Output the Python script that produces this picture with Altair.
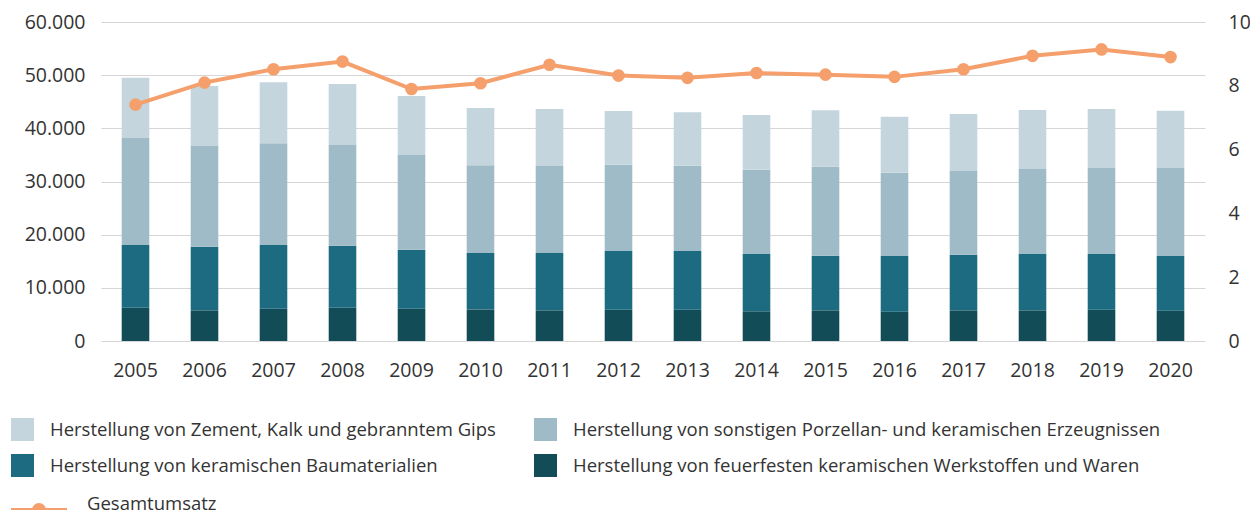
import altair as alt
import pandas as pd

# ---- data ----
years = ["2005", "2006", "2007", "2008", "2009", "2010", "2011", "2012",
         "2013", "2014", "2015", "2016", "2017", "2018", "2019", "2020"]

feuerfest = [6260, 5770, 6080, 6260, 6080, 5950, 5770, 5890,
             5890, 5590, 5770, 5520, 5770, 5770, 5890, 5710]
baumaterialien = [11790, 11970, 11980, 11670, 11100, 10600, 10780, 11040,
                  11040, 10780, 10280, 10460, 10460, 10590, 10480, 10280]
porzellan = [20130, 18940, 19120, 18940, 17810, 16490, 16360, 16240,
             16050, 15860, 16740, 15670, 15740, 15990, 16180, 16550]
zement = [11340, 11290, 11470, 11470, 11100, 10790, 10720, 10100,
          10030, 10280, 10600, 10530, 10720, 11100, 11100, 10780]
gesamtumsatz = [7.41, 8.10, 8.52, 8.76, 7.90, 8.08, 8.66, 8.32,
                8.25, 8.40, 8.35, 8.28, 8.52, 8.94, 9.14, 8.90]

name_zement = "Herstellung von Zement, Kalk und gebranntem Gips"
name_porzellan = "Herstellung von sonstigen Porzellan- und keramischen Erzeugnissen"
name_bau = "Herstellung von keramischen Baumaterialien"
name_feuer = "Herstellung von feuerfesten keramischen Werkstoffen und Waren"
name_line = "Gesamtumsatz"

# legend is filled column by column (2 columns)
legend_order = [name_zement, name_bau, name_porzellan, name_feuer]
legend_colors = ["#c4d5de", "#1c6b80", "#9fbbc7", "#114c57"]
orange = "#f5a06c"

# bottom to top
stack_series = [(name_feuer, feuerfest), (name_bau, baumaterialien),
                (name_porzellan, porzellan), (name_zement, zement)]

rows = []
for i, yr in enumerate(years):
    for k, (nm, vals) in enumerate(stack_series):
        rows.append({"Jahr": yr, "Reihe": nm, "Wert": vals[i], "Ordnung": k})
bars_df = pd.DataFrame(rows)
line_df = pd.DataFrame({"Jahr": years, "Umsatz": gesamtumsatz,
                        "Reihe": [name_line] * len(years)})

FONT = "Open Sans"
TXT = "#333333"
TICK_SIZE = 19.5
LEG_SIZE = 18.5

x_enc = alt.X("Jahr:N",
              scale=alt.Scale(paddingInner=0.6, paddingOuter=0.3),
              axis=alt.Axis(title=None, labelAngle=0, ticks=False, domain=False,
                            labelPadding=20, labelFontSize=TICK_SIZE, grid=False))

left_axis = alt.Axis(title=None, values=[0, 10000, 20000, 30000, 40000, 50000, 60000],
                     labelExpr="replace(format(datum.value, ','), ',', '.')",
                     grid=True, ticks=False, domain=False, labelPadding=16,
                     labelFontSize=TICK_SIZE)

right_axis = alt.Axis(title=None, orient="right", values=[0, 2, 4, 6, 8, 10],
                      grid=False, ticks=False, domain=False, labelPadding=23,
                      labelFontSize=TICK_SIZE)

bars = alt.Chart(bars_df).mark_bar().encode(
    x=x_enc,
    y=alt.Y("Wert:Q", stack="zero",
            scale=alt.Scale(domain=[0, 60000], nice=False), axis=left_axis),
    fill=alt.Fill("Reihe:N",
                  scale=alt.Scale(domain=legend_order, range=legend_colors),
                  legend=alt.Legend(title=None, orient="none", legendX=-90, legendY=396,
                                    columns=2, symbolType="square", symbolSize=529,
                                    symbolStrokeWidth=0, symbolOpacity=1,
                                    labelFontSize=LEG_SIZE, labelFont=FONT, labelColor=TXT,
                                    labelOffset=16, rowPadding=13, columnPadding=38,
                                    labelLimit=900, padding=0)),
    order=alt.Order("Ordnung:Q", sort="ascending"),
)

line_symbol = ("M-1,0H1M-0.18,0A0.18,0.18,0,1,0,0.18,0"
               "A0.18,0.18,0,1,0,-0.18,0Z")

line = alt.Chart(line_df).mark_line(strokeWidth=4).encode(
    x=x_enc,
    y=alt.Y("Umsatz:Q", scale=alt.Scale(domain=[0, 10], nice=False), axis=right_axis),
    stroke=alt.Stroke("Reihe:N", scale=alt.Scale(domain=[name_line], range=[orange]),
                      legend=alt.Legend(title=None, orient="none", legendX=-92, legendY=458,
                                        symbolType=line_symbol, symbolSize=3136,
                                        symbolStrokeWidth=4, symbolFillColor=orange,
                                        labelFontSize=LEG_SIZE, labelFont=FONT, labelColor=TXT,
                                        labelOffset=18, labelBaseline="alphabetic",
                                        padding=0)),
)

points = alt.Chart(line_df).mark_circle(size=160, opacity=1, color=orange).encode(
    x=x_enc,
    y=alt.Y("Umsatz:Q", scale=alt.Scale(domain=[0, 10], nice=False), axis=right_axis),
)

chart = alt.layer(bars, alt.layer(line, points)).resolve_scale(
    y="independent"
).properties(
    width=1104, height=319,
    autosize=alt.AutoSizeParams(type="none"),
    padding={"left": 93, "top": 14, "right": 45, "bottom": 180},
).configure_view(stroke=None).configure_axis(
    labelFont=FONT, labelColor=TXT, gridColor="#d6d6d6", gridWidth=1.2
).configure_legend(labelFont=FONT)

chart.save("out.html", embed_options={"renderer": "svg", "actions": False})
